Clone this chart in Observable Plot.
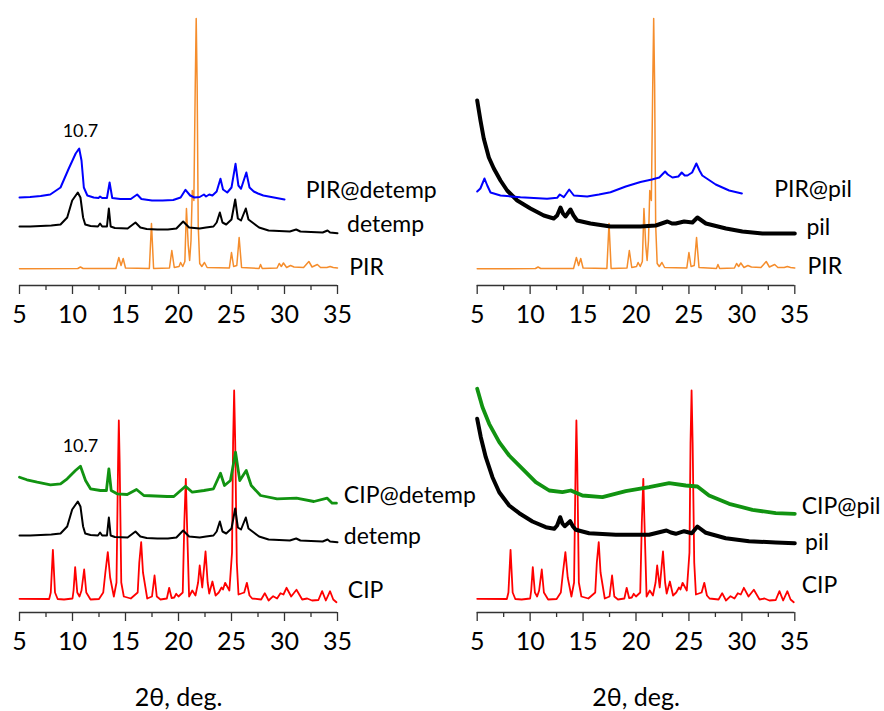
<!DOCTYPE html>
<html><head><meta charset="utf-8">
<script src="https://cdn.jsdelivr.net/npm/d3@7"></script>
<script src="https://cdn.jsdelivr.net/npm/@observablehq/plot@0.6"></script>
<style>
body{margin:0;background:#fff}
#wrap{position:relative;width:884px;height:711px;overflow:hidden;background:#fff}
#wrap svg{position:absolute}
</style>
</head><body><div id="wrap"></div>
<script>
// ---- axis ticks ----
const xTicks = [5, 10, 15, 20, 25, 30, 35];
const xMinor = [7.5, 12.5, 17.5, 22.5, 27.5, 32.5];
const xTitle = ["2θ, deg."];
const peakNote = ["10.7"];

// ---- series: [2θ, intensity (a.u., offset stacked as in the figure)] ----
const PIR = [[5,16.7],[10.5,17],[10.75,18.5],[11,17],[14.1,17],[14.37,28],[14.58,20],[14.78,27],[15.0,17.5],[17.25,17],[17.45,62],[17.65,17],[19.15,17.5],[19.37,35],[19.6,18],[20.05,19],[20.2,23],[20.4,19],[20.6,24],[20.75,77],[20.92,40],[21.05,25],[21.18,45],[21.3,95],[21.45,85],[21.58,200],[21.67,267],[21.76,200],[21.86,60],[22.0,22],[22.2,19],[22.45,23],[22.7,18],[24.8,17.5],[25.0,33],[25.2,19],[25.5,20],[25.72,48],[25.95,18],[27.6,17],[27.74,21],[27.9,17],[29.3,17.5],[29.5,22],[29.7,19],[29.9,22.5],[30.2,18],[30.57,20],[30.9,18.5],[31.8,18],[32.3,24],[32.6,18.5],[33.1,21],[33.4,18],[34.0,18],[34.3,19],[34.6,18],[35,17.5]];

const detemp = [[5,59],[6,59],[7,59.5],[8,60],[8.87,61],[9.5,68],[9.97,85],[10.5,93],[10.75,88],[11.0,68],[11.2,61],[11.7,59.5],[12.4,59],[12.6,62],[12.8,59],[13.25,59],[13.43,77],[13.6,59],[14,57.5],[15.2,57],[15.94,63],[16.4,58],[17,56.5],[18,56],[19,56],[19.8,57],[20.44,64],[21,58],[22,57],[22.6,58],[23.3,59],[23.6,63],[23.9,73],[24.15,63],[24.5,61],[25.0,66],[25.35,86],[25.6,67],[25.9,65],[26.35,77],[26.6,66],[27.1,62],[27.6,58],[28.5,55],[29.5,54.5],[30.5,54],[31.1,56],[31.5,54],[32.5,53.5],[33.6,53],[34.06,55],[34.3,53],[35,52.3]];

const PIRdetemp = [[5,88],[6,88.5],[7,89.5],[7.9,91],[8.87,98],[9.65,117],[10.3,132],[10.63,137],[10.85,125],[11.07,98],[11.4,90],[12.0,88],[12.45,87.5],[12.6,89],[12.8,87.5],[13.25,87.5],[13.5,103],[13.75,87.5],[14.5,86.5],[15.5,86.5],[16.1,91],[16.5,86.5],[17.5,85],[18.5,85],[19.5,85.5],[20.2,88],[20.66,95.7],[21.1,90],[21.5,88],[22.0,88.5],[22.4,91],[22.6,89],[22.9,91],[23.2,90],[23.6,94],[23.96,106.7],[24.2,96],[24.6,93],[25.0,98],[25.38,121.7],[25.65,100],[25.9,96.7],[26.4,113],[26.7,98],[27.1,94],[27.5,92],[28,90],[29,88],[30,86]];

const pilA = [[5.0,185],[5.31,165],[5.62,147],[6.1,128],[6.57,117],[7.2,105],[7.83,95],[8.78,85],[10.03,77],[11.29,70],[12.23,67],[12.55,70],[12.87,78],[13.1,72],[13.34,69],[13.81,76],[14.1,70],[14.44,65],[15.7,62],[17.59,59],[20.42,59],[21.87,60],[22.97,64],[23.4,62],[23.75,62],[24.55,64],[25.33,63],[25.8,68],[26.6,62],[28.5,57],[30.05,54],[31.94,52],[35,52]];

const PIRpil = [[5.0,94],[5.3,97],[5.69,107],[5.95,100],[6.26,93],[7.2,90],[9.09,88.3],[11.6,86.7],[12.55,87.7],[12.8,91],[13.18,88.3],[13.69,96],[14.13,90],[15.39,89],[16.5,91],[17.59,93.3],[19.03,99],[20.42,103.5],[21.5,106],[22.2,108],[22.75,114],[23.0,111],[23.44,108],[24.0,109],[24.32,113],[24.6,110],[24.86,110],[25.3,113],[25.7,122],[26.0,115],[26.26,110],[27.53,101],[28.8,95],[30.0,92]];

const CIP = [[5,13.7],[7.8,13.5],[7.95,20],[8.15,62.7],[8.35,20],[8.6,13.5],[9.2,13],[10.0,14],[10.1,22],[10.25,45.3],[10.45,20],[10.66,16],[10.85,22],[11.1,43],[11.3,20],[11.7,13],[12.5,13.5],[12.9,20],[13.1,40],[13.33,60.3],[13.55,35],[13.9,16],[14.15,30],[14.3,150],[14.37,192],[14.45,150],[14.6,30],[14.84,16],[15.5,14],[16.15,20],[16.3,50],[16.48,70.3],[16.65,40],[17.05,14],[17.5,16],[17.74,37],[17.95,16],[18.3,13],[18.9,14],[19.12,24.7],[19.35,14.5],[19.6,15],[19.78,18.7],[20.0,16],[20.4,20],[20.55,90],[20.69,133.7],[20.8,90],[21.0,16],[21.3,22],[21.6,17],[21.85,30],[22.0,47],[22.24,25],[22.55,61],[22.75,30],[22.9,19],[23.2,31],[23.5,17],[23.8,20],[24.06,25],[24.2,23],[24.4,29.7],[24.8,22],[25.05,60],[25.15,170],[25.25,222],[25.35,170],[25.5,50],[25.66,18],[26.2,20],[26.45,29.7],[26.7,17],[26.95,14],[27.8,13],[28.14,19.3],[28.5,12],[28.93,16.3],[29.3,14],[29.62,19.3],[29.9,18],[30.19,24.7],[30.63,16],[31.13,22.7],[31.67,13],[32.14,14],[32.6,12],[33.2,12.5],[33.55,21.3],[33.9,12],[34.3,21.3],[34.6,13],[34.9,10.3]];

const CIPdetemp = [[5,135.3],[5.7,132.7],[6.67,130.3],[7.92,127.7],[8.87,128.7],[9.5,133.7],[10.28,142],[10.75,146.3],[11.23,132],[11.7,123.7],[12.64,122],[13.2,122],[13.43,143.7],[13.65,122],[14.2,118.7],[15.16,118],[16.04,123],[16.73,117],[18.93,116],[19.56,116],[20.66,126.3],[21.3,120.3],[22.4,122],[23.3,123.7],[23.96,139.3],[24.34,127],[24.9,132],[25.38,160.3],[25.78,132],[26.39,142],[26.86,127],[27.74,117],[29.3,113.7],[31.13,114.3],[32.77,111],[34.03,114.3],[34.5,109.3],[34.9,109.3]];

const pilB = [[5.0,193.7],[5.34,175.3],[5.81,155.3],[6.44,135.3],[7.08,120.3],[8.02,107],[8.97,99.3],[10.22,91],[11.48,85.3],[12.27,83.7],[12.55,87],[12.84,95.3],[13.05,89],[13.27,86.3],[13.78,91.3],[14.05,86],[14.31,82.7],[15.57,79.3],[18.1,77.7],[21.24,77.7],[22.88,82],[23.3,80],[23.76,78.7],[24.55,81.3],[25.27,79.3],[25.8,86],[26.6,79.7],[28.48,74.3],[30.68,71.3],[33.2,70],[35.0,69.3]];

const CIPpil = [[5.0,223.7],[5.5,205.3],[6.13,188.7],[7.08,170.3],[8.02,157],[9.28,143.7],[10.53,130.3],[11.8,122],[13.05,120.3],[13.84,122],[14.94,117],[16.83,115.3],[19.03,121.3],[21.24,125.3],[23.13,129.3],[24.7,127],[25.8,126],[26.9,117],[28.8,108.7],[31.0,102.7],[33.2,99.3],[35.0,98.7]];

// stacking offset of the detemp pattern in the CIP panel
const detempOffsetCIP = 18;

const C = {orange: "#f58d2c", blue: "#0000ff", black: "#000000", red: "#ff0000", green: "#119311"};
const FONT = "Lato, 'DejaVu Sans', sans-serif";

function panel(cfg) {
  const marks = [
    Plot.ruleY([0], {stroke: "#333", strokeWidth: 1.3}),
    Plot.axisX({ticks: xMinor, tickSize: 5, tickFormat: () => "", stroke: "#333", strokeWidth: 1.3, label: null}),
    Plot.axisX({ticks: xTicks, tickSize: 9, tickPadding: 11, fontSize: 25, stroke: "#333", strokeWidth: 1.3, label: null})
  ];
  for (const s of cfg.series) {
    marks.push(Plot.line(s.data, {x: d => d[0], y: d => d[1] + (s.offset || 0), stroke: s.color, strokeWidth: s.width, strokeLinejoin: "round"}));
  }
  marks.push(Plot.text(cfg.labels, {x: "x", y: "y", text: "text", textAnchor: "start", lineAnchor: "middle", fontSize: 23, fill: "#000"}));
  if (cfg.note) marks.push(Plot.text(peakNote, {x: cfg.note.x, y: cfg.note.y, text: d => d, textAnchor: "middle", lineAnchor: "middle", fontSize: 18, fill: "#000"}));
  if (cfg.title) marks.push(Plot.text(xTitle, {frameAnchor: "bottom", dy: 85, text: d => d, lineAnchor: "middle", fontSize: 25, fill: "#000"}));
  const svg = Plot.plot({
    width: 442, height: cfg.height,
    marginLeft: cfg.ml, marginRight: cfg.mr, marginTop: 0, marginBottom: cfg.height - cfg.axis,
    x: {domain: [5, 35], label: null},
    y: {domain: [0, cfg.axis], axis: null},
    style: {fontFamily: FONT, background: "transparent", overflow: "visible", color: "#000"},
    marks
  });
  svg.style.left = cfg.left + "px";
  svg.style.top = cfg.top + "px";
  svg.style.maxWidth = "none";
  document.getElementById("wrap").appendChild(svg);
}

// top-left: PIR / detemp / PIR@detemp
panel({left: 0, top: 0, height: 330, axis: 285, ml: 19, mr: 105,
  series: [
    {data: PIR, color: C.orange, width: 1.5},
    {data: detemp, color: C.black, width: 2},
    {data: PIRdetemp, color: C.blue, width: 2}
  ],
  labels: [{text: "PIR@detemp", x: 32.0, y: 95}, {text: "detemp", x: 35.9, y: 61}, {text: "PIR", x: 36.1, y: 17.5}],
  note: {x: 10.75, y: 154}
});

// top-right: PIR / pil / PIR@pil
panel({left: 442, top: 0, height: 330, axis: 285, ml: 34.7, mr: 89.7,
  series: [
    {data: PIR, color: C.orange, width: 1.5},
    {data: pilA, color: C.black, width: 4},
    {data: PIRpil, color: C.blue, width: 2}
  ],
  labels: [{text: "PIR@pil", x: 33.05, y: 95.7}, {text: "pil", x: 36.1, y: 57.4}, {text: "PIR", x: 36.2, y: 19}]
});

// bottom-left: CIP / detemp / CIP@detemp
panel({left: 0, top: 330, height: 381, axis: 282, ml: 19, mr: 105,
  series: [
    {data: CIP, color: C.red, width: 1.8},
    {data: detemp, color: C.black, width: 2, offset: detempOffsetCIP},
    {data: CIPdetemp, color: C.green, width: 2.8}
  ],
  labels: [{text: "CIP@detemp", x: 35.6, y: 116.7}, {text: "detemp", x: 35.6, y: 76}, {text: "CIP", x: 35.97, y: 21.7}],
  note: {x: 10.75, y: 166},
  title: true
});

// bottom-right: CIP / pil / CIP@pil
panel({left: 442, top: 330, height: 381, axis: 282, ml: 34.7, mr: 89.7,
  series: [
    {data: CIP, color: C.red, width: 1.8},
    {data: pilB, color: C.black, width: 4},
    {data: CIPpil, color: C.green, width: 3.8}
  ],
  labels: [{text: "CIP@pil", x: 35.65, y: 105.4}, {text: "pil", x: 35.97, y: 70}, {text: "CIP", x: 35.65, y: 26.7}],
  title: true
});
</script></body></html>
